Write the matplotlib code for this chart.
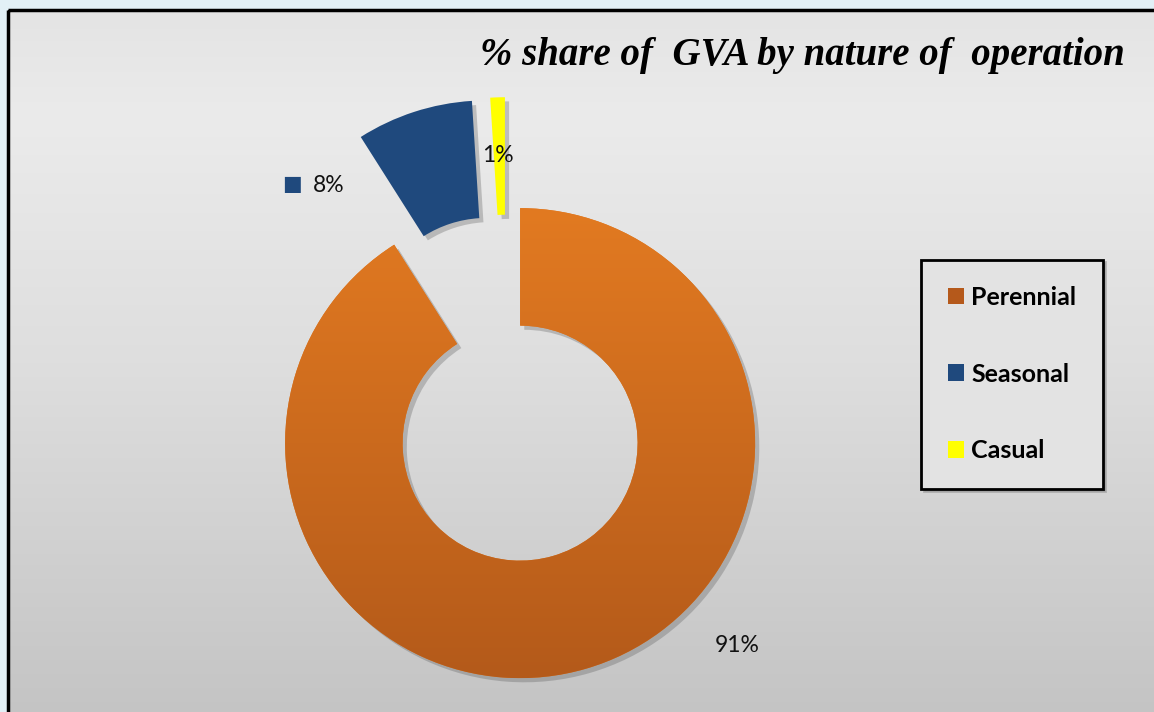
import numpy as np
import matplotlib
matplotlib.use("Agg")
import matplotlib.pyplot as plt
from matplotlib.colors import LinearSegmentedColormap
from matplotlib.patches import Patch, Rectangle
import matplotlib.patheffects as pe

# data
labels = ["Perennial", "Seasonal", "Casual"]
shares = [91, 8, 1]
pct_text = ["91%", "8%", "1%"]

colors = ["#e07820", "#1f497d", "#ffff00"]
legend_colors = ["#b5591b", "#1f497d", "#ffff00"]

W, H = 1154, 712
fig = plt.figure(figsize=(W / 100, H / 100), dpi=100)
fig.patch.set_facecolor("#e2f0f6")

# background panel (pixel coords, y down)
bg = fig.add_axes([0, 0, 1, 1], zorder=0)
grad = np.linspace(0, 1, 300).reshape(-1, 1)
bg_cmap = LinearSegmentedColormap.from_list(
    "bg", [(0, "#e4e4e4"), (0.15, "#ebebeb"), (0.5, "#dedede"), (1, "#c4c4c4")])
bg.imshow(grad, extent=[8, W + 5, H + 5, 10], cmap=bg_cmap, aspect="auto", origin="upper")
bg.add_patch(Rectangle((8, 10), W + 20, H + 20, fill=False, ec="black", lw=2.5))
bg.set_xlim(0, W)
bg.set_ylim(H, 0)
bg.axis("off")

# donut: pie center (507, 398) px, radius 235 px; every slice pulled out
S = 800
cx, cy, r = 507, 398, 235
ax = fig.add_axes([(cx - S / 2) / W, (H - cy - S / 2) / H, S / W, S / H], zorder=1)
wedges, _ = ax.pie(shares, colors=colors, startangle=90, counterclock=False,
                   explode=[0.2, 0.28, 0.28], radius=1,
                   wedgeprops=dict(width=0.5, linewidth=0))
for w in wedges:
    w.set_clip_on(False)
    w.set_path_effects([pe.SimplePatchShadow(offset=(3, -3), alpha=0.3, shadow_rgbFace="#555555"),
                        pe.Normal()])

# gradient fill on the perennial wedge
or_cmap = LinearSegmentedColormap.from_list("or", ["#b45a1a", "#e27a21"])
x0, y0 = wedges[0].center
img = ax.imshow(grad, extent=[x0 - 1, x0 + 1, y0 - 1, y0 + 1],
                origin="lower", cmap=or_cmap, aspect="auto", zorder=2)
img.set_clip_path(wedges[0])

L = S / (2 * r)
ax.set_xlim(-L, L)
ax.set_ylim(-L, L)
ax.set_aspect("equal")
ax.axis("off")

# labels (pixel positions, drawn above the wedges)
lab_font = dict(family="Lato", fontsize=16.5, color="#111111", va="center", ha="center",
                transform=bg.transData, zorder=5, clip_on=False)
ax.text(737, 645, pct_text[0], **lab_font)
ax.text(329, 185, pct_text[1], **lab_font)
ax.text(498, 155, pct_text[2], **lab_font)
ax.text(292, 184, "\u25a0", family="DejaVu Sans", fontsize=15, color=colors[1],
        va="center", ha="center", transform=bg.transData, zorder=5)

# title
fig.text(802 / W, 1 - 55 / H, "% share of  GVA by nature of  operation",
         family="Liberation Serif", fontsize=28, weight="bold", style="italic",
         ha="center", va="center")

# legend
handles = [Patch(facecolor=c, edgecolor="none") for c in legend_colors]
leg = fig.legend(handles, labels, loc="center",
                 bbox_to_anchor=(1012 / W, 1 - 374 / H), bbox_transform=fig.transFigure,
                 prop=dict(family="Lato", weight="bold", size=18),
                 handlelength=0.65, handleheight=0.65, handletextpad=0.3,
                 labelspacing=2.15, borderpad=1.05, fancybox=False, framealpha=1,
                 facecolor="#e3e3e3", edgecolor="black",
                 shadow={"color": "#888888", "alpha": 0.5})
leg.get_frame().set_linewidth(2)

fig.savefig("out.png", dpi=100)
